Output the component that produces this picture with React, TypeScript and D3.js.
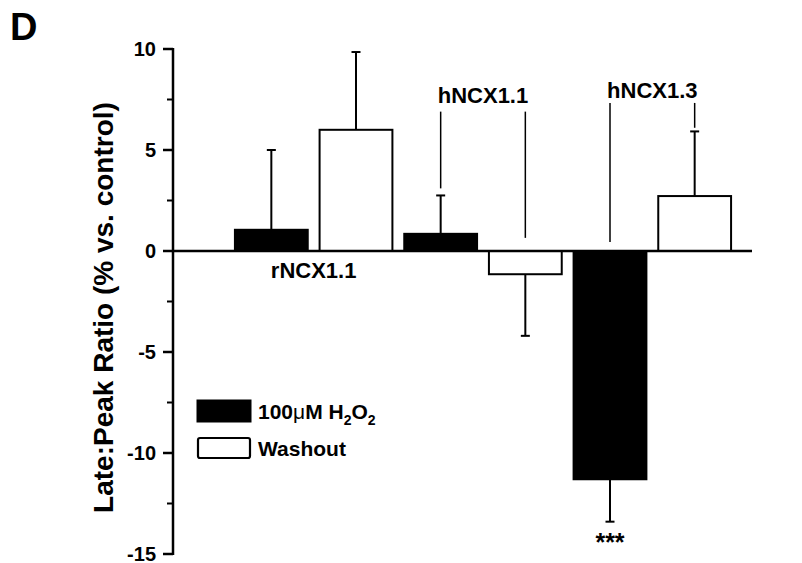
import React from "react";
import * as d3 from "d3";

const groups = ["rNCX1.1", "hNCX1.1", "hNCX1.3"];
const h2o2Values = [1.05, 0.85, -11.3];
const h2o2Errors = [3.95, 1.9, 2.1];
const washValues = [6.0, -1.15, 2.72];
const washErrors = [3.85, 3.05, 3.2];
const yMajorTicks = [10, 5, 0, -5, -10, -15];
const yMinorTicks = [7.5, 2.5, -2.5, -7.5, -12.5];
// group label positions (data units) and leader line ends (data units)
const labelY = [-1.34, 7.33, 7.57];
const leaderTop = [null, 6.9, 7.33];
const leaderEndH2O2 = [null, 3.1, 0.45];
const leaderEndWash = [null, 0.65, 6.1];

const W = 802;
const H = 563;
const FONT = "'Liberation Sans', Arial, Helvetica, sans-serif";

export default function App() {
  const axisX = 173;
  const y = d3.scaleLinear().domain([-15, 10]).range([554, 49]);
  const keys: string[] = [];
  groups.forEach((g) => {
    keys.push(g + "|h");
    keys.push(g + "|w");
  });
  const x = d3.scaleBand<string>().domain(keys).range([229, 737]).paddingInner(0.14).paddingOuter(0.07);
  const bw = x.bandwidth();
  const capHalf = 4.5;

  const bars: { key: string; v: number; e: number; fill: string }[] = [];
  groups.forEach((g, i) => {
    bars.push({ key: g + "|h", v: h2o2Values[i], e: h2o2Errors[i], fill: "#000" });
    bars.push({ key: g + "|w", v: washValues[i], e: washErrors[i], fill: "#fff" });
  });

  return (
    <svg width={W} height={H} style={{ position: "absolute", left: 0, top: 0, background: "#fff" }} fontFamily={FONT}>
      <rect width={W} height={H} fill="#fff" />
      <text x={10} y={40} fontSize={38} fontWeight="bold">D</text>

      {/* bars */}
      {bars.map((b) => {
        const x0 = x(b.key)!;
        const yTop = y(Math.max(0, b.v));
        const yBot = y(Math.min(0, b.v));
        const cx = x0 + bw / 2;
        const yEnd = b.v >= 0 ? y(b.v + b.e) : y(b.v - b.e);
        const yStart = b.v >= 0 ? yTop : yBot;
        return (
          <g key={b.key}>
            <line x1={cx} x2={cx} y1={yStart} y2={yEnd} stroke="#000" strokeWidth={2} />
            <line x1={cx - capHalf} x2={cx + capHalf} y1={yEnd} y2={yEnd} stroke="#000" strokeWidth={2} />
            <rect x={x0} y={yTop} width={bw} height={yBot - yTop} fill={b.fill} stroke="#000" strokeWidth={2} />
          </g>
        );
      })}

      {/* zero line */}
      <line x1={axisX} x2={752} y1={y(0)} y2={y(0)} stroke="#000" strokeWidth={2.5} />

      {/* y axis */}
      <line x1={axisX} x2={axisX} y1={y(10) - 1} y2={y(-15) + 1} stroke="#000" strokeWidth={2.5} />
      {yMajorTicks.map((t) => (
        <g key={"M" + t}>
          <line x1={axisX - 10} x2={axisX} y1={y(t)} y2={y(t)} stroke="#000" strokeWidth={2.5} />
          <text x={axisX - 17} y={y(t)} dy="0.36em" textAnchor="end" fontSize={20} fontWeight="bold">{t}</text>
        </g>
      ))}
      {yMinorTicks.map((t) => (
        <line key={"m" + t} x1={axisX - 6} x2={axisX} y1={y(t)} y2={y(t)} stroke="#000" strokeWidth={2} />
      ))}
      <text
        transform={`translate(113, ${(y(10) + y(-15)) / 2 + 6}) rotate(-90)`}
        textAnchor="middle"
        fontSize={28}
        fontWeight="bold"
      >
        Late:Peak Ratio (% vs. control)
      </text>

      {/* group labels and leader lines */}
      {groups.map((g, i) => {
        const cH = x(g + "|h")! + bw / 2;
        const cW = x(g + "|w")! + bw / 2;
        const lt = leaderTop[i];
        const eh = leaderEndH2O2[i];
        const ew = leaderEndWash[i];
        return (
          <g key={g}>
            <text x={(cH + cW) / 2} y={y(labelY[i])} textAnchor="middle" fontSize={22} fontWeight="bold">{g}</text>
            {lt !== null && eh !== null && (
              <line x1={cH} x2={cH} y1={y(lt)} y2={y(eh)} stroke="#000" strokeWidth={1.5} />
            )}
            {lt !== null && ew !== null && (
              <line x1={cW} x2={cW} y1={y(lt)} y2={y(ew)} stroke="#000" strokeWidth={1.5} />
            )}
          </g>
        );
      })}

      {/* significance */}
      <text
        x={x(groups[2] + "|h")! + bw / 2}
        y={y(h2o2Values[2] - h2o2Errors[2]) + 29}
        textAnchor="middle"
        fontSize={25}
        fontWeight="bold"
      >
        ***
      </text>

      {/* legend */}
      <rect x={197} y={400} width={54} height={22} fill="#000" stroke="#000" strokeWidth={1} />
      <text x={258} y={419} fontSize={21} fontWeight="bold">
        100<tspan fontWeight="normal">μ</tspan>M H<tspan fontSize={14} dy={6}>2</tspan>
        <tspan dy={-6}>O</tspan><tspan fontSize={14} dy={6}>2</tspan>
      </text>
      <rect x={198} y={438} width={52} height={20} rx={2} fill="#fff" stroke="#000" strokeWidth={2.2} />
      <text x={258} y={456} fontSize={21} fontWeight="bold">Washout</text>
    </svg>
  );
}
